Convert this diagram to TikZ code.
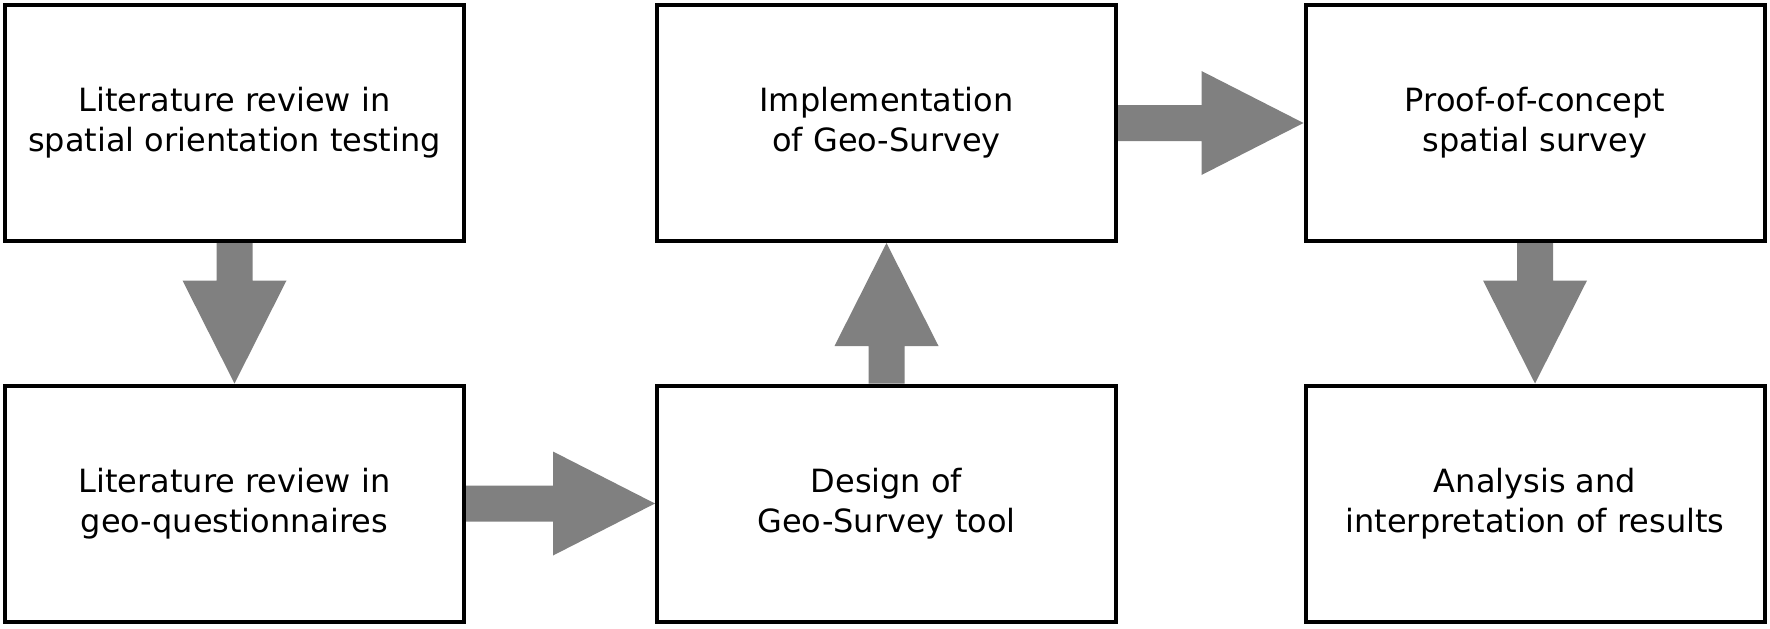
\documentclass[tikz,border=0pt]{standalone}
\usepackage{fontspec}
\setmainfont{DejaVu Sans}
\usetikzlibrary{calc}
\definecolor{arrgray}{RGB}{128,128,128}
\tikzset{
  stagebox/.style={draw=black, line width=4pt, fill=white, minimum width=459pt, minimum height=236pt,
    inner sep=0pt, align=center, font=\fontsize{32}{40}\selectfont},
  lowtext/.style={execute at begin node={\rule{0pt}{32pt}}},
  arr/.style={fill=arrgray}
}
\begin{document}
\begin{tikzpicture}[x=1pt,y=-1pt]
\useasboundingbox[fill=white] (0,0) rectangle (1770,629);
\node[stagebox,lowtext] (b1) at (234.5,123) {Literature review in\\spatial orientation testing};
\node[stagebox] (b2) at (234.5,503.5) {Literature review in\\geo-questionnaires};
\node[stagebox] (b3) at (886.5,503.5) {Design of\\Geo-Survey tool};
\node[stagebox,lowtext] (b4) at (886.5,123) {Implementation\\of Geo-Survey};
\node[stagebox,lowtext] (b5) at (1535,123) {Proof-of-concept\\spatial survey};
\node[stagebox] (b6) at (1535,503.5) {Analysis and\\interpretation of results};
% b1 -> b2 (down)
\fill[arr] ($(b1.south)+(-18,0)$) -- ($(b2.north)+(-18,-103)$) -- ($(b2.north)+(-52,-103)$) -- (b2.north)
  -- ($(b2.north)+(52,-103)$) -- ($(b2.north)+(18,-103)$) -- ($(b1.south)+(18,0)$) -- cycle;
% b2 -> b3 (right)
\fill[arr] ($(b2.east)+(0,-18)$) -- ($(b3.west)+(-102,-18)$) -- ($(b3.west)+(-102,-52)$) -- (b3.west)
  -- ($(b3.west)+(-102,52)$) -- ($(b3.west)+(-102,18)$) -- ($(b2.east)+(0,18)$) -- cycle;
% b3 -> b4 (up)
\fill[arr] ($(b3.north)+(-18,0)$) -- ($(b4.south)+(-18,103)$) -- ($(b4.south)+(-52,103)$) -- (b4.south)
  -- ($(b4.south)+(52,103)$) -- ($(b4.south)+(18,103)$) -- ($(b3.north)+(18,0)$) -- cycle;
% b4 -> b5 (right)
\fill[arr] ($(b4.east)+(0,-18)$) -- ($(b5.west)+(-102,-18)$) -- ($(b5.west)+(-102,-52)$) -- (b5.west)
  -- ($(b5.west)+(-102,52)$) -- ($(b5.west)+(-102,18)$) -- ($(b4.east)+(0,18)$) -- cycle;
% b5 -> b6 (down)
\fill[arr] ($(b5.south)+(-18,0)$) -- ($(b6.north)+(-18,-103)$) -- ($(b6.north)+(-52,-103)$) -- (b6.north)
  -- ($(b6.north)+(52,-103)$) -- ($(b6.north)+(18,-103)$) -- ($(b5.south)+(18,0)$) -- cycle;
\end{tikzpicture}
\end{document}
